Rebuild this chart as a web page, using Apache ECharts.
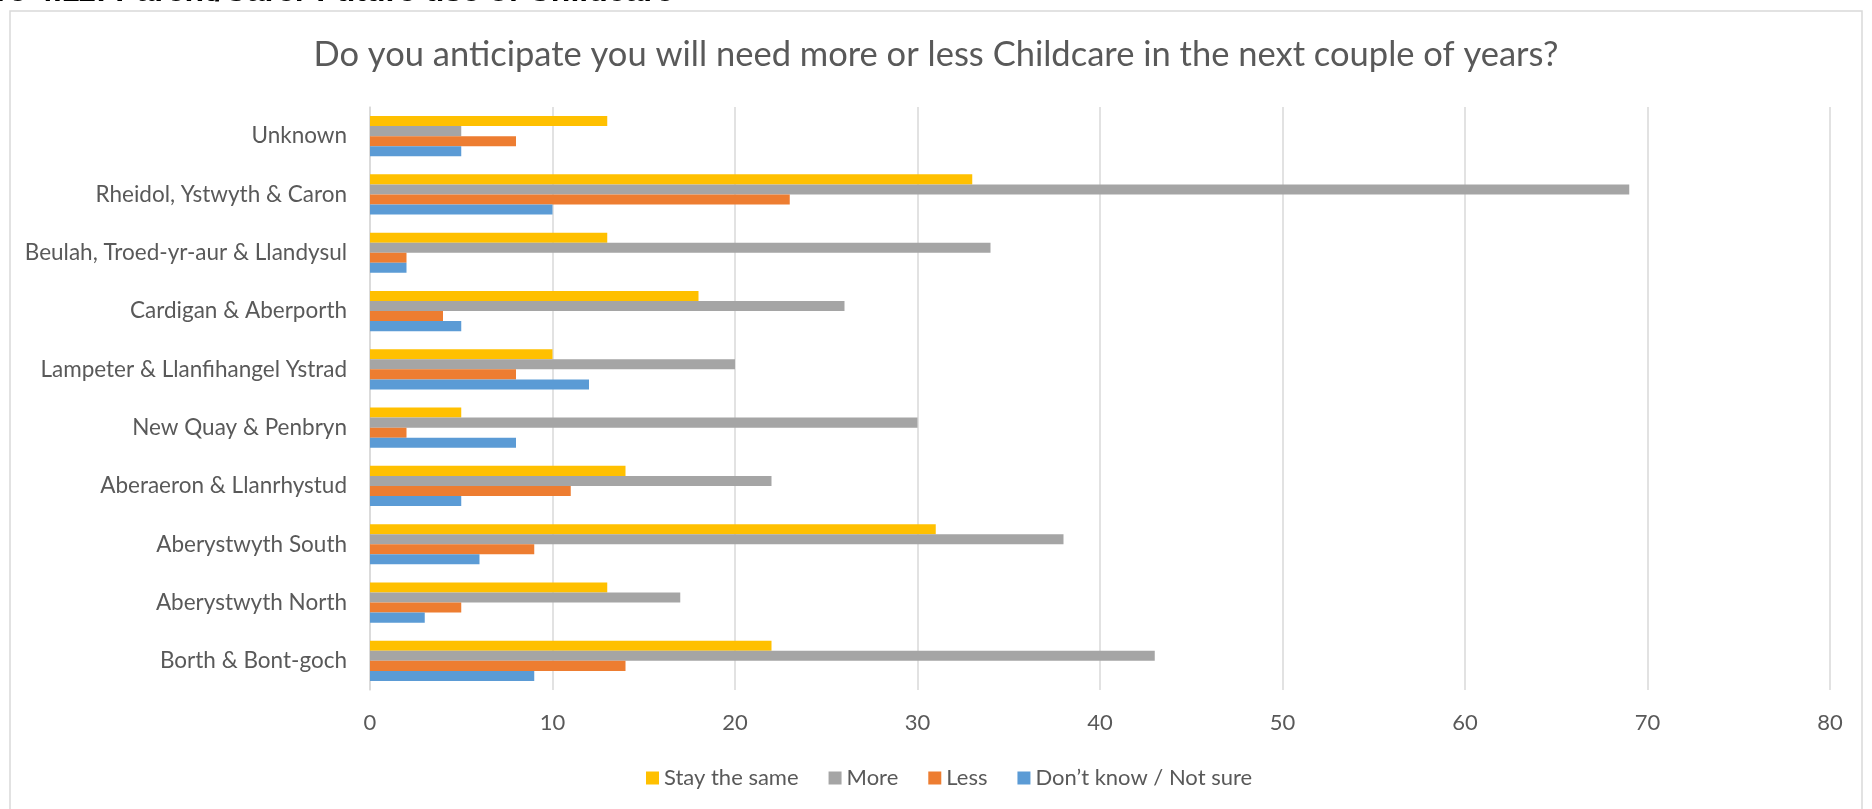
<!DOCTYPE html>
<html>
<head>
<meta charset="utf-8">
<script src="https://cdn.jsdelivr.net/npm/echarts@6/dist/echarts.min.js"></script>
<style>
html,body{margin:0;padding:0;background:#fff;}
#chart{width:1872px;height:809px;}
</style>
</head>
<body>
<div id="chart"></div>
<script>
const categories = ["Borth & Bont-goch","Aberystwyth North","Aberystwyth South","Aberaeron & Llanrhystud","New Quay & Penbryn","Lampeter & Llanfihangel Ystrad","Cardigan & Aberporth","Beulah, Troed-yr-aur & Llandysul","Rheidol, Ystwyth & Caron","Unknown"];
const staySame = [22,13,31,14,5,10,18,13,33,13];
const more = [43,17,38,22,30,20,26,34,69,5];
const less = [14,5,9,11,2,8,4,2,23,8];
const dontKnow = [9,3,6,5,8,12,5,2,10,5];
const xTicks = [0,10,20,30,40,50,60,70,80];

const FONT = 'Lato';
const chart = echarts.init(document.getElementById('chart'), null, {renderer:'canvas'});
const mk = (name, data, color) => ({
  name, type:'bar', data, barGap:'0%', barCategoryGap:'31%',
  itemStyle:{color}
});
chart.setOption({
  animation:false,
  backgroundColor:'#fff',
  textStyle:{fontFamily:FONT},
  graphic:[
    {type:'rect', shape:{x:10,y:11,width:1852,height:820}, style:{fill:'none', stroke:'#D9D9D9', lineWidth:1.5}, silent:true},
    {type:'text', left:-4, top:-24, style:{text:'re 4.11: Parent/Carer Future use of Childcare', font:'bold 32px "Liberation Sans"', fill:'#000'}}
  ],
  title:{text:'Do you anticipate you will need more or less Childcare in the next couple of years?', left:'center', top:32,
    textStyle:{fontFamily:FONT, fontSize:34.5, fontWeight:'normal', color:'#595959'}},
  legend:{data:['Stay the same','More','Less','Don\u2019t know / Not sure'], left:641, top:762, itemWidth:13, itemHeight:13, itemGap:30,
    icon:'rect', textStyle:{fontFamily:FONT, fontSize:22, color:'#595959'}},
  grid:{left:370, right:42, top:107, bottom:119},
  xAxis:{type:'value', min:0, max:80, interval:10,
    axisLine:{show:false}, axisTick:{show:false},
    axisLabel:{fontFamily:FONT, fontSize:22, color:'#595959', margin:22, formatter:(v)=>xTicks.includes(v)?String(v):''},
    splitLine:{lineStyle:{color:'#D9D9D9', width:1.5}}},
  yAxis:{type:'category', data:categories,
    axisLine:{show:true, lineStyle:{color:'#D9D9D9', width:1.5}}, axisTick:{show:false},
    axisLabel:{fontFamily:FONT, fontSize:22.5, color:'#595959', margin:23}},
  series:[
    mk('Stay the same', staySame, '#FFC000'),
    mk('More', more, '#A5A5A5'),
    mk('Less', less, '#ED7D31'),
    mk('Don\u2019t know / Not sure', dontKnow, '#5B9BD5')
  ]
});
</script>
</body>
</html>
